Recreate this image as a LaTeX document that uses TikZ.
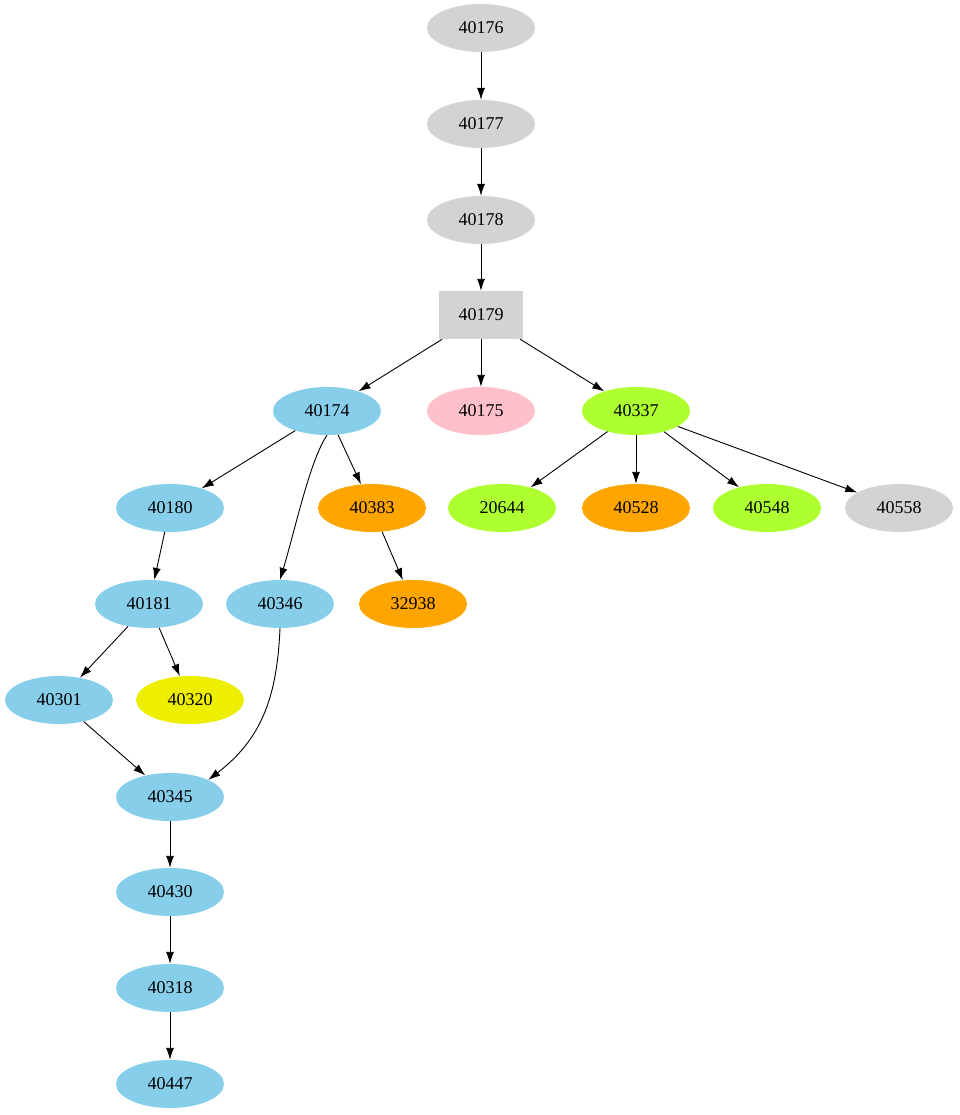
\documentclass[tikz,border=0pt]{standalone}
\usepackage{fontspec}
\setmainfont{Liberation Serif}
\usetikzlibrary{shapes.geometric,arrows.meta}
\definecolor{lg}{HTML}{D3D3D3}
\definecolor{sb}{HTML}{87CEEB}
\definecolor{pk}{HTML}{FFC0CB}
\definecolor{gy}{HTML}{ADFF2F}
\definecolor{og}{HTML}{FFA500}
\definecolor{yl}{HTML}{EEEE00}
\tikzset{
 el/.style={ellipse,minimum width=108pt,minimum height=48pt,inner sep=0pt,font=\fontsize{18}{18}\selectfont},
 bx/.style={rectangle,minimum width=84pt,minimum height=48pt,inner sep=0pt,fill=lg,font=\fontsize{18}{18}\selectfont},
 ar/.style={-{Latex[length=12pt,width=8pt]},line width=0.9pt}
}
\begin{document}
\begin{tikzpicture}[x=1pt,y=-1pt]
\useasboundingbox (0,0) rectangle (959,1115);
\node[el,fill=lg] (a176) at (481,28) {40176};
\node[el,fill=lg] (a177) at (481,124) {40177};
\node[el,fill=lg] (a178) at (481,220) {40178};
\node[bx] (a179) at (481,315) {40179};
\node[el,fill=sb] (a174) at (327,411) {40174};
\node[el,fill=pk] (a175) at (481,411) {40175};
\node[el,fill=gy] (a337) at (636,411) {40337};
\node[el,fill=sb] (a180) at (170,508) {40180};
\node[el,fill=og] (a383) at (372,508) {40383};
\node[el,fill=gy] (b644) at (502,508) {20644};
\node[el,fill=og] (a528) at (636,508) {40528};
\node[el,fill=gy] (a548) at (767,508) {40548};
\node[el,fill=lg] (a558) at (899,508) {40558};
\node[el,fill=sb] (a181) at (149,604) {40181};
\node[el,fill=sb] (a346) at (280,604) {40346};
\node[el,fill=og] (c938) at (413,604) {32938};
\node[el,fill=sb] (a301) at (59,700) {40301};
\node[el,fill=yl] (a320) at (190,700) {40320};
\node[el,fill=sb] (a345) at (170,797) {40345};
\node[el,fill=sb] (a430) at (170,892) {40430};
\node[el,fill=sb] (a318) at (170,988) {40318};
\node[el,fill=sb] (a447) at (170,1084) {40447};
\draw[ar] (a176)--(a177);
\draw[ar] (a177)--(a178);
\draw[ar] (a178)--(a179);
\draw[ar] (a179)--(a174);
\draw[ar] (a179)--(a175);
\draw[ar] (a179)--(a337);
\draw[ar] (a174)--(a180);
\draw[ar] (a174)--(a383);
\draw[ar] (a174.south) .. controls (310,460) and (295,530) .. (a346.north);
\draw[ar] (a383)--(c938);
\draw[ar] (a337)--(b644);
\draw[ar] (a337)--(a528);
\draw[ar] (a337)--(a548);
\draw[ar] (a337)--(a558);
\draw[ar] (a180)--(a181);
\draw[ar] (a181)--(a301);
\draw[ar] (a181)--(a320);
\draw[ar] (a301)--(a345);
\draw[ar] (a346.south) .. controls (277,700) and (260,740) .. (a345.north east);
\draw[ar] (a345)--(a430);
\draw[ar] (a430)--(a318);
\draw[ar] (a318)--(a447);
\end{tikzpicture}
\end{document}
